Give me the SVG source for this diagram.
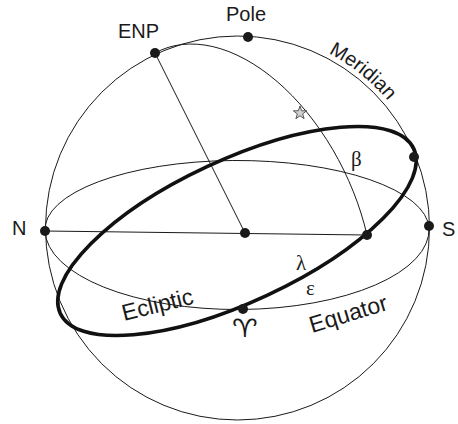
<svg xmlns="http://www.w3.org/2000/svg" width="458" height="424" viewBox="0 0 458 424">
<style>
.thin{fill:none;stroke:#1a1a1a;stroke-width:1}
.thick{fill:none;stroke:#111;stroke-width:3.6}
.dot{fill:#1a1a1a}
.lab{font-family:"Liberation Sans",Arial,sans-serif;font-size:20px;fill:#1a1a1a}
.big{font-size:23px}
.greek{font-family:"Liberation Serif","Times New Roman",serif;font-size:21px;fill:#1a1a1a}
</style>
<defs>
<path id="merPath" d="M328.5,53.3 A197,197 0 0 1 416,144.7"/>
</defs>
<rect width="458" height="424" fill="#fff"/>
<g id="connectors">
<circle id="meridian" class="thin" cx="237.5" cy="228" r="192"/>
<path id="equator" class="thin" d="M45,231 A192,69 0 0 1 429,228 A192,80 0 0 1 45,231"/>
<path id="latcircle" class="thin" d="M155,53 A192,117 65 0 1 367,235"/>
<line id="enpline" class="thin" x1="155" y1="53" x2="245" y2="233"/>
<line id="horizon" class="thin" x1="45" y1="231" x2="367" y2="235"/>
<ellipse id="ecliptic" class="thick" cx="237" cy="231" rx="195" ry="71" transform="rotate(-25 237 231)"/>
</g>
<g id="star"><polygon points="300,106 301.65,110.73 306.66,110.84 302.66,113.87 304.11,118.66 300,115.8 295.89,118.66 297.34,113.87 293.34,110.84 298.35,110.73" fill="#d0d0d0" stroke="#333" stroke-width="0.8"/></g>
<g id="ENP"><circle class="dot" cx="155" cy="53" r="5"/><text class="lab" x="118" y="38">ENP</text></g>
<g id="Pole"><circle class="dot" cx="248" cy="37" r="5"/><text class="lab" x="226" y="21">Pole</text></g>
<g id="N"><circle class="dot" cx="45" cy="231" r="5"/><text class="lab" x="12" y="235">N</text></g>
<g id="S"><circle class="dot" cx="429" cy="226" r="5"/><text class="lab" x="442" y="236">S</text></g>
<g id="center"><circle class="dot" cx="245" cy="233" r="5"/></g>
<g id="eclMer"><circle class="dot" cx="414" cy="157" r="5"/></g>
<g id="eclPoint"><circle class="dot" cx="367" cy="235" r="5"/></g>
<g id="aries"><circle class="dot" cx="243" cy="309" r="5"/><text transform="translate(245,337) scale(1.15,1)" text-anchor="middle" font-family="DejaVu Sans,sans-serif" font-size="25" fill="#1a1a1a">♈︎</text></g>
<g id="labels">
<text class="lab"><textPath href="#merPath">Meridian</textPath></text>
<text class="lab big" transform="translate(124,321) rotate(-14)">Ecliptic</text>
<text class="lab big" transform="translate(312,333) rotate(-17)">Equator</text>
<text class="greek" x="351" y="166">β</text>
<text class="greek" x="296" y="270">λ</text>
<text class="greek" x="306" y="295">ε</text>
</g>
</svg>
